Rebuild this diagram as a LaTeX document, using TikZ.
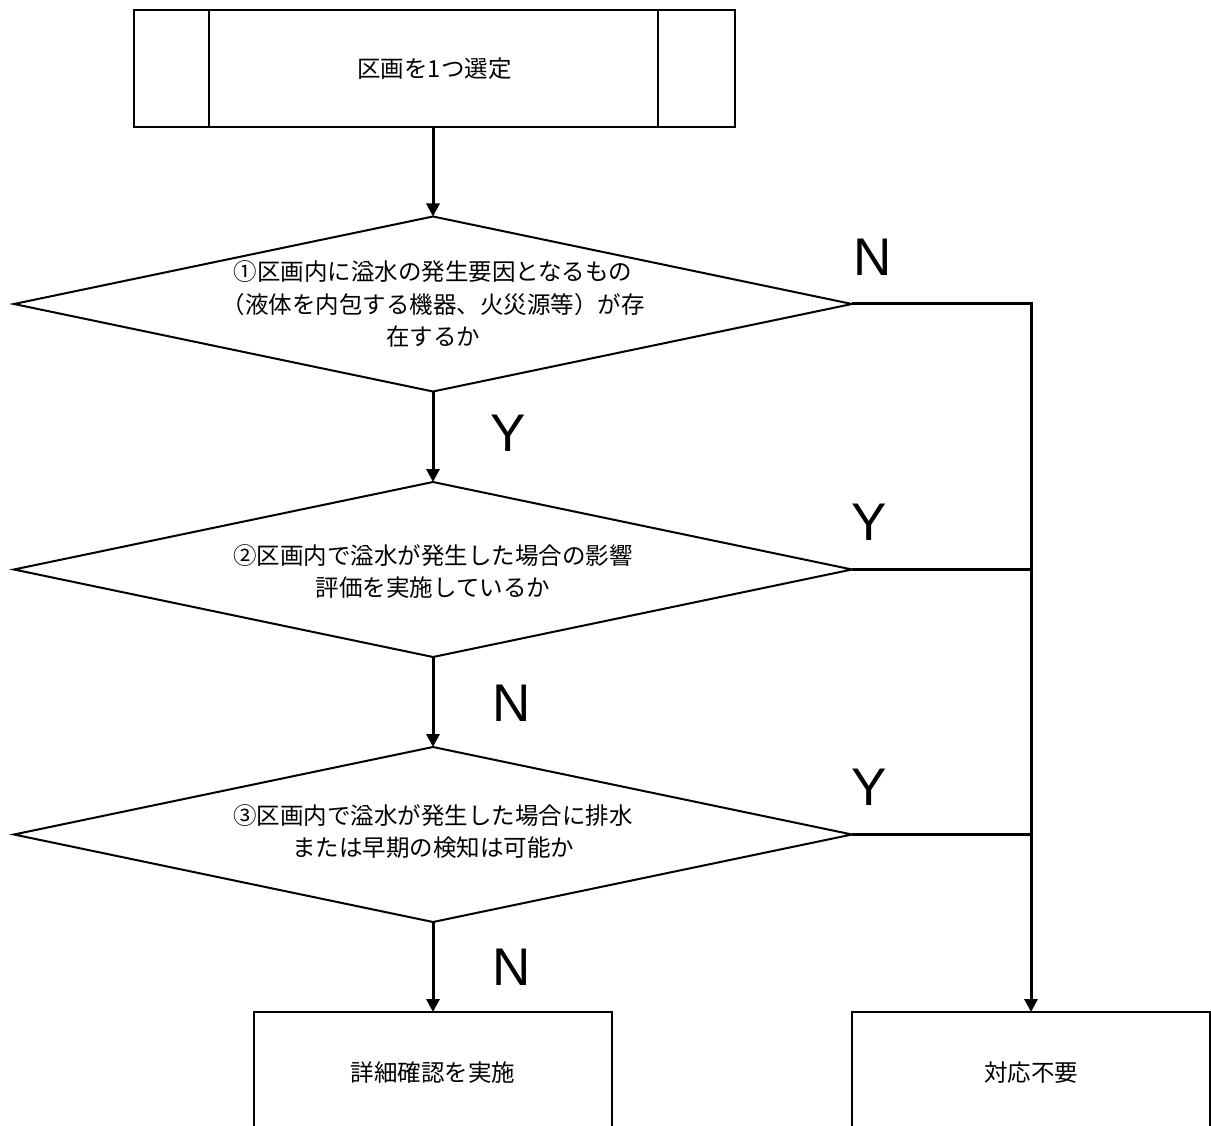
\documentclass[tikz,border=0pt]{standalone}
\usepackage{fontspec}
\setmainfont{Noto Sans CJK JP}
\newfontfamily\ynfont{Liberation Sans}
\usetikzlibrary{shapes.geometric,arrows.meta}
\begin{document}
\begin{tikzpicture}[x=1pt,y=-1pt,
  every node/.style={inner sep=0pt,outer sep=0pt},
  dia/.style={draw,diamond,line width=2pt,minimum width=838pt,minimum height=175pt,aspect=4.8},
  proc/.style={draw,rectangle,line width=2pt,minimum width=358pt,minimum height=122pt,font=\fontsize{23.5}{32.5}\selectfont},
  startbox/.style={draw,rectangle,line width=2.6pt,minimum width=601pt,minimum height=117pt,font=\fontsize{23.5}{32.5}\selectfont},
  txt/.style={font=\fontsize{23.5}{32.5}\selectfont,align=center},
  yn/.style={font=\ynfont\fontsize{53}{53}\selectfont},
  conn/.style={line width=3pt},
  arr/.style={conn,-{Triangle[width=13pt,length=13pt]}}]
\useasboundingbox (0,0) rectangle (1211,1126);
\clip (0,0) rectangle (1211,1126);

% start box
\node[startbox] (start) at (434.5,68.5) {区画を1つ選定};
\draw[line width=2.6pt] ([xshift=75pt]start.north west) -- ([xshift=75pt]start.south west);
\draw[line width=2.6pt] ([xshift=-77pt]start.north east) -- ([xshift=-77pt]start.south east);

% decisions
\node[dia] (d1) at (433,304) {};
\node[txt] (t1) at (d1) {①区画内に溢水の発生要因となるもの\\（液体を内包する機器、火災源等）が存\\在するか};
\node[dia] (d2) at (433,569.5) {};
\node[txt] (t2) at ([yshift=-2pt]d2.center) {②区画内で溢水が発生した場合の影響\\評価を実施しているか};
\node[dia] (d3) at (433,834.5) {};
\node[txt] (t3) at ([yshift=3pt]d3.center) {③区画内で溢水が発生した場合に排水\\または早期の検知は可能か};

% end boxes
\node[proc] (b1) at (433,1073) {詳細確認を実施};
\node[proc] (b2) at (1031,1073) {対応不要};

% connectors
\draw[arr] (start.south -| d1.north) -- (d1.north);
\draw[arr] (d1.south) -- (d2.north);
\draw[arr] (d2.south) -- (d3.north);
\draw[arr] (d3.south) -- (b1.north);
\draw[arr] (d1.east) -| (b2.north);
\draw[conn] (d2.east) -- (d2.east -| b2.north);
\draw[conn] (d3.east) -- (d3.east -| b2.north);

% labels
\node[yn] (y1) at (508,433) {Y};
\node[yn] (n2) at (512,703) {N};
\node[yn] (n3) at (512,967) {N};
\node[yn] (n1) at (873,257) {N};
\node[yn] (y2) at (869,522) {Y};
\node[yn] (y3) at (869,787) {Y};
\end{tikzpicture}
\end{document}
